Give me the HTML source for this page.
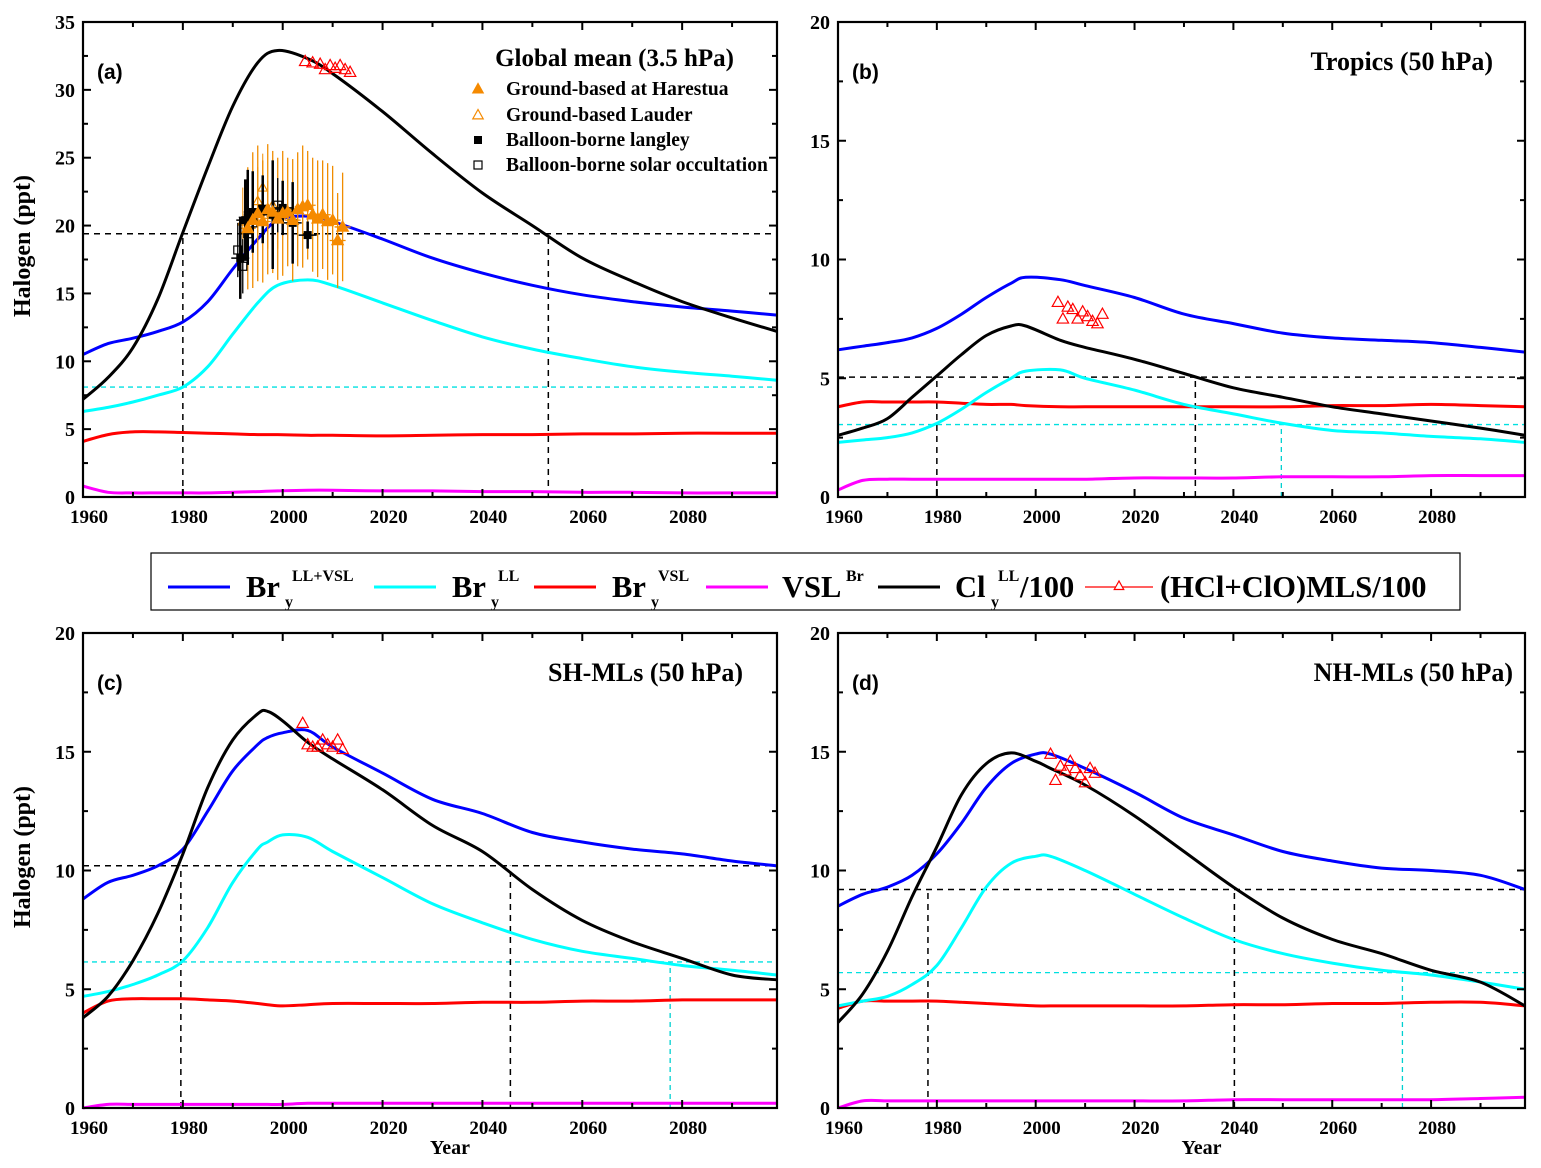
<!DOCTYPE html>
<html><head><meta charset="utf-8">
<style>
html,body{margin:0;padding:0;background:#fff;}
svg{display:block;font-family:"Liberation Serif",serif;font-weight:bold;}
</style></head>
<body>
<svg id="chart" width="1541" height="1168" viewBox="0 0 1541 1168" xmlns="http://www.w3.org/2000/svg"></svg>
<script>
// ===== Data =====
const aYears = [1960,1965,1970,1975,1980,1985,1990,1995,1999,2005,2010,2020,2030,2040,2050,2060,2070,2080,2090,2099];
const aCl    = [7.2,8.8,11,14.6,19.5,24.3,28.8,32.0,32.9,32.3,31.2,28.4,25.3,22.4,20.0,17.6,15.9,14.4,13.2,12.2];
const aBr    = [10.5,11.3,11.7,12.2,12.9,14.4,16.8,19.0,20.4,20.7,20.3,19.0,17.6,16.5,15.6,14.9,14.4,14.0,13.7,13.4];
const aBrLL  = [6.3,6.6,7.0,7.5,8.1,9.6,12.0,14.3,15.6,16.0,15.6,14.3,13.0,11.8,10.9,10.2,9.6,9.2,8.9,8.6];
const aBrVSL = [4.1,4.6,4.8,4.8,4.75,4.7,4.65,4.6,4.6,4.55,4.55,4.5,4.55,4.6,4.6,4.65,4.65,4.7,4.7,4.7];
const aVSL   = [0.8,0.35,0.3,0.3,0.3,0.3,0.35,0.4,0.45,0.5,0.5,0.45,0.45,0.4,0.4,0.35,0.35,0.3,0.3,0.3];
const aMLSx  = [2004.5,2006,2007.5,2008.5,2009.5,2010.5,2011.5,2012.5,2013.5];
const aMLSy  = [32.1,32.0,31.9,31.5,31.8,31.6,31.8,31.5,31.3];
const harX = [1993,1994,1995,1996,1997,1998,1999,2000,2001,2002,2003,2004,2005,2006,2007,2008,2009,2010,2011,2012];
const harY = [19.8,20.4,20.9,20.3,21.2,21.0,20.5,20.9,21.0,20.4,21.2,21.4,21.5,20.8,20.5,20.8,20.3,20.4,18.9,19.9];
const harE = [4.5,5,5,4.5,4.8,4.5,4.5,4.6,4,4.5,4.2,4.5,4,4.2,4.3,4,4.3,4,3.5,4];
const laudX = [1992,1994,1995,1996,1997,1998,1999];
const laudY = [20.3,20.5,21.8,22.8,20.8,21.5,20.8];
const ballX = [1991.5,1992.5,1993,1994,1996,1998,2000,2002,2005];
const ballY = [17.6,20.4,20.6,21.0,21.2,20.8,21.3,20.2,19.3];
const ballE = [3,3,3.5,3,2.5,4,2,3,1];
const solX = [1991,1992,1993,1994,1996,1999];
const solY = [18.2,17.0,19.4,20.2,21.2,21.5];
const bYears = [1960,1965,1970,1975,1980,1985,1990,1995,1998,2005,2010,2020,2030,2040,2050,2060,2070,2080,2090,2099];
const bCl    = [2.6,2.9,3.3,4.2,5.1,6.0,6.8,7.2,7.2,6.6,6.3,5.8,5.2,4.6,4.2,3.8,3.5,3.2,2.9,2.6];
const bBr    = [6.2,6.35,6.5,6.7,7.1,7.7,8.4,9.0,9.25,9.15,8.9,8.4,7.7,7.3,6.9,6.7,6.6,6.5,6.3,6.1];
const bBrLL  = [2.3,2.4,2.5,2.7,3.1,3.7,4.4,5.0,5.3,5.35,5.0,4.5,3.9,3.5,3.1,2.8,2.7,2.55,2.45,2.3];
const bBrVSL = [3.8,4.0,4.0,4.0,4.0,3.95,3.9,3.9,3.85,3.8,3.8,3.8,3.8,3.8,3.8,3.85,3.85,3.9,3.85,3.8];
const bVSL   = [0.3,0.7,0.75,0.75,0.75,0.75,0.75,0.75,0.75,0.75,0.75,0.8,0.8,0.8,0.85,0.85,0.85,0.9,0.9,0.9];
const bMLSx  = [2004.5,2005.5,2006.5,2007.5,2008.5,2009.5,2010.5,2011.5,2012.5,2013.5];
const bMLSy  = [8.2,7.5,8.0,7.9,7.5,7.8,7.6,7.4,7.3,7.7];
const cYears = [1960,1965,1970,1975,1980,1985,1990,1995,1997,2000,2005,2010,2020,2030,2040,2050,2060,2070,2080,2090,2099];
const cCl    = [3.8,4.7,6.2,8.2,10.7,13.5,15.5,16.6,16.7,16.3,15.4,14.7,13.4,11.9,10.8,9.2,7.9,7.0,6.3,5.6,5.4];
const cBr    = [8.8,9.5,9.8,10.2,10.9,12.5,14.2,15.3,15.6,15.8,15.9,15.2,14.1,13.0,12.4,11.6,11.2,10.9,10.7,10.4,10.2];
const cBrLL  = [4.7,4.9,5.2,5.6,6.2,7.6,9.5,10.9,11.2,11.5,11.4,10.8,9.7,8.6,7.8,7.1,6.6,6.3,6.0,5.8,5.6];
const cBrVSL = [4.0,4.5,4.6,4.6,4.6,4.55,4.5,4.4,4.35,4.3,4.35,4.4,4.4,4.4,4.45,4.45,4.5,4.5,4.55,4.55,4.55];
const cVSL   = [0.0,0.15,0.15,0.15,0.15,0.15,0.15,0.15,0.15,0.15,0.2,0.2,0.2,0.2,0.2,0.2,0.2,0.2,0.2,0.2,0.2];
const cMLSx  = [2004,2005,2006,2007,2008,2009,2010,2011,2012];
const cMLSy  = [16.2,15.3,15.2,15.2,15.5,15.3,15.2,15.5,15.1];
const dYears = [1960,1965,1970,1975,1980,1985,1990,1995,2000,2003,2010,2020,2030,2040,2050,2060,2070,2080,2090,2099];
const dCl    = [3.6,4.8,6.6,8.9,11.0,13.2,14.5,14.95,14.6,14.3,13.6,12.3,10.8,9.3,8.0,7.1,6.5,5.8,5.3,4.3];
const dBr    = [8.5,9.0,9.3,9.8,10.7,12.0,13.5,14.5,14.9,14.9,14.3,13.3,12.2,11.5,10.8,10.4,10.1,10.0,9.8,9.2];
const dBrLL  = [4.3,4.5,4.7,5.2,6.0,7.6,9.3,10.3,10.6,10.6,10.0,9.0,8.0,7.1,6.5,6.1,5.8,5.6,5.3,5.0];
const dBrVSL = [4.2,4.5,4.5,4.5,4.5,4.45,4.4,4.35,4.3,4.3,4.3,4.3,4.3,4.35,4.35,4.4,4.4,4.45,4.45,4.3];
const dVSL   = [0.0,0.3,0.3,0.3,0.3,0.3,0.3,0.3,0.3,0.3,0.3,0.3,0.3,0.35,0.35,0.35,0.35,0.35,0.4,0.45];
const dMLSx  = [2003,2004,2005,2006,2007,2008,2009,2010,2011,2012];
const dMLSy  = [14.9,13.8,14.4,14.2,14.6,14.3,14.0,13.7,14.3,14.1];
const aRefBlack = 19.4, aRefBlackYears = [1980,2053.2], aRefCyan = 8.1, aRefCyanYears = [];
const bRefBlack = 5.05, bRefBlackYears = [1980,2032.3], bRefCyan = 3.05, bRefCyanYears = [2049.7];
const cRefBlack = 10.2, cRefBlackYears = [1979.6,2045.6], cRefCyan = 6.15, cRefCyanYears = [2077.6];
const dRefBlack = 9.2, dRefBlackYears = [1978.2,2040.2], dRefCyan = 5.7, dRefCyanYears = [2074.2];
const xTickLabels = ["1960","1980","2000","2020","2040","2060","2080"];

// ===== Drawing =====
const NS = "http://www.w3.org/2000/svg";
const svg = document.getElementById("chart");
function mk(tag, attrs, parent){
  const e = document.createElementNS(NS, tag);
  for (const k in attrs) e.setAttribute(k, attrs[k]);
  (parent||svg).appendChild(e);
  return e;
}
function smoothPath(pts){
  let d = "M"+pts[0][0].toFixed(1)+","+pts[0][1].toFixed(1);
  for (let i=0;i<pts.length-1;i++){
    const p0=pts[Math.max(0,i-1)], p1=pts[i], p2=pts[i+1], p3=pts[Math.min(pts.length-1,i+2)];
    const c1x=p1[0]+(p2[0]-p0[0])/6, c1y=p1[1]+(p2[1]-p0[1])/6;
    const c2x=p2[0]-(p3[0]-p1[0])/6, c2y=p2[1]-(p3[1]-p1[1])/6;
    d += " C"+c1x.toFixed(1)+","+c1y.toFixed(1)+" "+c2x.toFixed(1)+","+c2y.toFixed(1)+" "+p2[0].toFixed(1)+","+p2[1].toFixed(1);
  }
  return d;
}
function tri(g, x, y, s, fill, stroke){
  return mk("polygon",{points:`${x},${y-s} ${x-s*0.95},${y+s*0.7} ${x+s*0.95},${y+s*0.7}`, fill:fill, stroke:stroke, "stroke-width":1.2}, g);
}

function panel(cfg){
  const g = mk("g",{});
  
  
  const L=cfg.x0, R=cfg.x1, T=cfg.y0, B=cfg.y1;
  const xs = yr => L + (yr-1960)*(R-L)/139;
  const ys = v => B - v*(B-T)/cfg.ymax;
  const refs = mk("g",{},g);
  
  
  mk("line",{x1:L,x2:R,y1:ys(cfg.refB),y2:ys(cfg.refB),stroke:"#000","stroke-width":1.5,"stroke-dasharray":"6,5"},refs);
  mk("line",{x1:L,x2:R,y1:ys(cfg.refC),y2:ys(cfg.refC),stroke:"#00e0e0","stroke-width":1.3,"stroke-dasharray":"5,4"},refs);
  cfg.refBY.forEach(yr=>mk("line",{x1:xs(yr),x2:xs(yr),y1:B,y2:ys(cfg.refB),stroke:"#000","stroke-width":1.5,"stroke-dasharray":"6,5"},refs));
  cfg.refCY.forEach(yr=>mk("line",{x1:xs(yr),x2:xs(yr),y1:B,y2:ys(cfg.refC),stroke:"#00d0d0","stroke-width":1.3,"stroke-dasharray":"5,4"},refs));
  const series = [
    [cfg.vsl,"#ff00ff","vsl-br-line"],
    [cfg.brvsl,"#ff0000","bry-vsl-line"],
    [cfg.brll,"#00ffff","bry-ll-line"],
    [cfg.br,"#0000ff","bry-ll-vsl-line"],
    [cfg.cl,"#000000","cly-ll-line"]
  ];
  series.forEach(s=>{
    const pts = cfg.years.map((yr,i)=>[xs(yr), ys(s[0][i])]);
    const p = mk("path",{d:smoothPath(pts),fill:"none",stroke:s[1],"stroke-width":3,"stroke-linejoin":"round"},g);
    
    
  });
  if (cfg.extra) cfg.extra(g, xs, ys);
  cfg.mlsx.forEach((yr,i)=>{
    const t = tri(g, xs(yr), ys(cfg.mlsy[i]), 6, "none", "#ff0000");
    
    
  });
  const fr = mk("rect",{x:L,y:T,width:R-L,height:B-T,fill:"none",stroke:"#000","stroke-width":2.2},g);
  
  
  for (let yr=1960; yr<=2090; yr+=10){
    const x=xs(yr), len = (yr%20===0)?8:5;
    mk("line",{x1:x,x2:x,y1:B,y2:B-len,stroke:"#000","stroke-width":2},g);
    mk("line",{x1:x,x2:x,y1:T,y2:T+len,stroke:"#000","stroke-width":2},g);
  }
  xTickLabels.forEach(lbl=>{
    const t = mk("text",{x:xs(+lbl)+6,y:B+26,"font-size":19,"text-anchor":"middle"},g);
    t.textContent = lbl;
    
    
  });
  for (let v=0; v<=cfg.ymax+0.001; v+=cfg.minor){
    const y=ys(v), major = Math.abs(v/cfg.major - Math.round(v/cfg.major))<1e-6, len=major?8:5;
    mk("line",{x1:L,x2:L+len,y1:y,y2:y,stroke:"#000","stroke-width":2},g);
    mk("line",{x1:R,x2:R-len,y1:y,y2:y,stroke:"#000","stroke-width":2},g);
    if (major){
      const t = mk("text",{x:L-8,y:y+7,"font-size":20,"text-anchor":"end"},g);
      t.textContent = String(Math.round(v));
      
      
    }
  }
  const pl = mk("text",{x:L+14,y:T+57,"font-size":21,"font-family":"Liberation Sans, sans-serif"},g);
  pl.textContent = cfg.letter;
  
  
  const ti = mk("text",{x:cfg.titleX,y:cfg.titleY,"font-size":cfg.titleSize,"text-anchor":"end"},g);
  ti.textContent = cfg.title;
  
  
  if (cfg.ylab){
    const yl = mk("text",{x:0,y:0,"font-size":24,"text-anchor":"middle",transform:`translate(30,${T+224}) rotate(-90)`},g);
    yl.textContent = "Halogen (ppt)";
    
    
  }
  if (cfg.xlab){
    const xl = mk("text",{x:(L+R)/2+20,y:B+46,"font-size":20,"text-anchor":"middle"},g);
    xl.textContent = "Year";
    
    
  }
}

function aExtra(g, xs, ys){
  const obs = mk("g",{},g);
  
  
  harX.forEach((yr,i)=>{
    mk("line",{x1:xs(yr),x2:xs(yr),y1:ys(harY[i]+harE[i]),y2:ys(harY[i]-harE[i]),stroke:"#f08c00","stroke-width":1.3},obs);
    mk("line",{x1:xs(yr)-8,x2:xs(yr)+8,y1:ys(harY[i]),y2:ys(harY[i]),stroke:"#f08c00","stroke-width":1.3},obs);
  });
  laudX.forEach((yr,i)=>{
    mk("line",{x1:xs(yr),x2:xs(yr),y1:ys(laudY[i]+2.5),y2:ys(laudY[i]-2.5),stroke:"#f08c00","stroke-width":1},obs);
    tri(obs, xs(yr), ys(laudY[i]), 5, "none", "#f08c00");
  });
  solX.forEach((yr,i)=>{
    mk("line",{x1:xs(yr),x2:xs(yr),y1:ys(solY[i]+2),y2:ys(solY[i]-2),stroke:"#000","stroke-width":1.3},obs);
    mk("rect",{x:xs(yr)-4,y:ys(solY[i])-4,width:8,height:8,fill:"none",stroke:"#000","stroke-width":1.2},obs);
  });
  ballX.forEach((yr,i)=>{
    mk("line",{x1:xs(yr),x2:xs(yr),y1:ys(ballY[i]+ballE[i]),y2:ys(ballY[i]-ballE[i]),stroke:"#000","stroke-width":2.5},obs);
    mk("line",{x1:xs(yr)-9,x2:xs(yr)+9,y1:ys(ballY[i]),y2:ys(ballY[i]),stroke:"#000","stroke-width":1.5},obs);
    mk("rect",{x:xs(yr)-4,y:ys(ballY[i])-4,width:8,height:8,fill:"#000"},obs);
  });
  harX.forEach((yr,i)=>{ tri(obs, xs(yr), ys(harY[i]), 6, "#f58a00", "#f58a00"); });
  const lg = mk("g",{},g);
  
  
  const rows = [["Ground-based at Harestua",89],["Ground-based Lauder",115],["Balloon-borne langley",140],["Balloon-borne solar occultation",165]];
  tri(lg,478,89,5.5,"#f58a00","#f58a00");
  tri(lg,478,115,5.5,"none","#f58a00");
  mk("rect",{x:474,y:136,width:8,height:8,fill:"#000"},lg);
  mk("rect",{x:474,y:161,width:8,height:8,fill:"none",stroke:"#000","stroke-width":1.2},lg);
  rows.forEach(r=>{
    const t = mk("text",{x:506,y:r[1]+6,"font-size":19.5},lg);
    t.textContent = r[0];
    
    
  });
}

panel({name:"panel-a",letter:"(a)",title:"Global mean (3.5 hPa)",titleSize:25,titleX:734,titleY:66,x0:83,x1:777,y0:22,y1:497,ymax:35,major:5,minor:2.5,
  years:aYears,cl:aCl,br:aBr,brll:aBrLL,brvsl:aBrVSL,vsl:aVSL,mlsx:aMLSx,mlsy:aMLSy,
  refB:aRefBlack,refBY:aRefBlackYears,refC:aRefCyan,refCY:aRefCyanYears,ylab:true,xlab:false,extra:aExtra});
panel({name:"panel-b",letter:"(b)",title:"Tropics (50 hPa)",titleSize:26,titleX:1493,titleY:70,x0:838,x1:1525,y0:22,y1:497,ymax:20,major:5,minor:2.5,
  years:bYears,cl:bCl,br:bBr,brll:bBrLL,brvsl:bBrVSL,vsl:bVSL,mlsx:bMLSx,mlsy:bMLSy,
  refB:bRefBlack,refBY:bRefBlackYears,refC:bRefCyan,refCY:bRefCyanYears,ylab:false,xlab:false});
panel({name:"panel-c",letter:"(c)",title:"SH-MLs  (50 hPa)",titleSize:26,titleX:743,titleY:681,x0:83,x1:777,y0:633,y1:1108,ymax:20,major:5,minor:2.5,
  years:cYears,cl:cCl,br:cBr,brll:cBrLL,brvsl:cBrVSL,vsl:cVSL,mlsx:cMLSx,mlsy:cMLSy,
  refB:cRefBlack,refBY:cRefBlackYears,refC:cRefCyan,refCY:cRefCyanYears,ylab:true,xlab:true});
panel({name:"panel-d",letter:"(d)",title:"NH-MLs  (50 hPa)",titleSize:26,titleX:1513,titleY:681,x0:838,x1:1525,y0:633,y1:1108,ymax:20,major:5,minor:2.5,
  years:dYears,cl:dCl,br:dBr,brll:dBrLL,brvsl:dBrVSL,vsl:dVSL,mlsx:dMLSx,mlsy:dMLSy,
  refB:dRefBlack,refBY:dRefBlackYears,refC:dRefCyan,refCY:dRefCyanYears,ylab:false,xlab:true});

// ===== Main legend =====
const lg = mk("g",{});


mk("rect",{x:151,y:553,width:1309,height:57,fill:"#fff",stroke:"#000","stroke-width":1.2},lg);
const entries = [
  [168,230,"#0000ff","Br","y","LL+VSL",246],
  [374,436,"#00ffff","Br","y","LL",452],
  [534,596,"#ff0000","Br","y","VSL",612],
  [706,768,"#ff00ff","VSL","","Br",782],
  [878,940,"#000000","Cl","y","LL",955]
];
entries.forEach(e=>{
  const eg = mk("g",{},lg);
  
  
  mk("line",{x1:e[0],x2:e[1],y1:587,y2:587,stroke:e[2],"stroke-width":3},eg);
  const t = mk("text",{x:e[6],y:597,"font-size":30.5},eg);
  t.textContent = e[3];
  const w = e[3]==="VSL"?62:(e[3]==="Br"?37:34);
  if (e[4]){ const s = mk("text",{x:e[6]+w+2,y:607,"font-size":16},eg); s.textContent=e[4]; }
  const sp = mk("text",{x:e[6]+w+(e[4]?9:2),y:581,"font-size":16},eg); sp.textContent=e[5];
  if (e[3]==="Cl"){ const r = mk("text",{x:e[6]+65,y:597,"font-size":30.5},eg); r.textContent="/100"; }
});
const mg = mk("g",{},lg);


mk("line",{x1:1085,x2:1153,y1:587,y2:587,stroke:"#ff0000","stroke-width":1.3},mg);
tri(mg,1119,586,5,"#fff","#ff0000");
const mt = mk("text",{x:1160,y:597,"font-size":30.5},mg);
mt.textContent = "(HCl+ClO)MLS/100";
</script>
</body></html>
